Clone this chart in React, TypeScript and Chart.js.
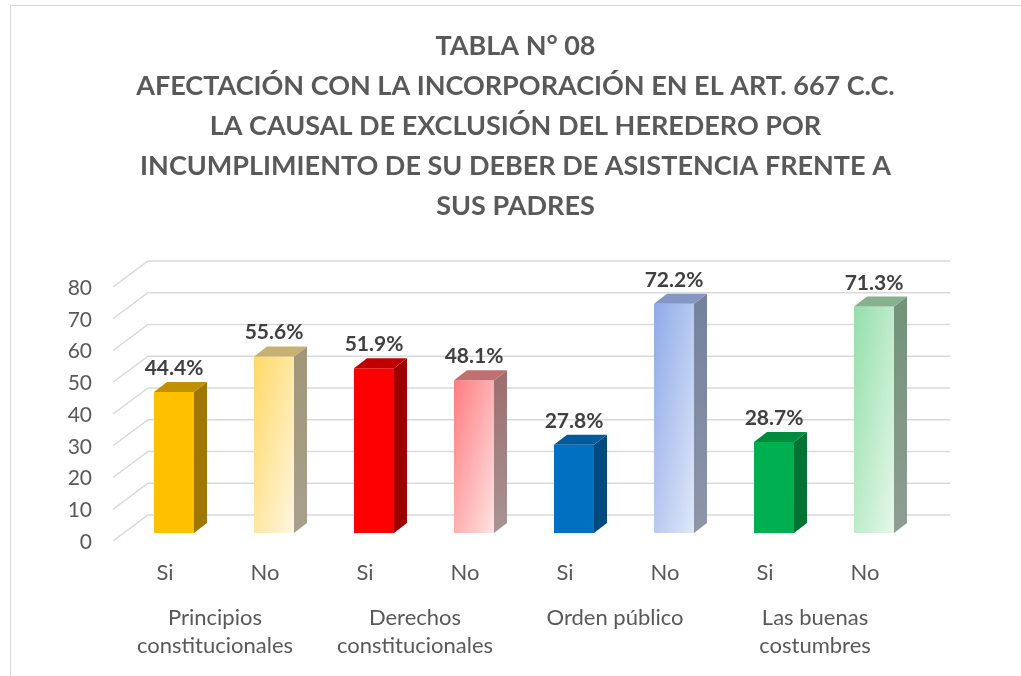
import React, { useEffect, useRef } from "react";
import { Chart, registerables } from "chart.js";

Chart.register(...registerables);

const titleLines = [
  "TABLA N° 08",
  "AFECTACIÓN CON LA INCORPORACIÓN EN EL ART. 667 C.C.",
  "LA CAUSAL DE EXCLUSIÓN DEL HEREDERO POR",
  "INCUMPLIMIENTO DE SU DEBER DE ASISTENCIA FRENTE A",
  "SUS PADRES",
];
const categories = ["Si", "No", "Si", "No", "Si", "No", "Si", "No"];
const groups = [
  ["Principios", "constitucionales"],
  ["Derechos", "constitucionales"],
  ["Orden público"],
  ["Las buenas", "costumbres"],
];
const values = [44.4, 55.6, 51.9, 48.1, 27.8, 72.2, 28.7, 71.3];
const valueLabels = ["44.4%", "55.6%", "51.9%", "48.1%", "27.8%", "72.2%", "28.7%", "71.3%"];
const yMin = 0;
const yMax = 80;
const yStep = 10;

const frontStart = ["#FFC000", "#FFD966", "#FF0000", "#FF7C80", "#0070C0", "#8EAAE8", "#00B050", "#94DFAA"];
const frontEnd = ["#FFC000", "#FFF6E1", "#FF0000", "#FFE3E3", "#0070C0", "#E0E8F8", "#00B050", "#E6F7EA"];
const sideStart = ["#A07800", "#A0977A", "#9E0000", "#9E7070", "#004A80", "#75829E", "#007533", "#73937A"];
const sideEnd = ["#A07800", "#A8A08C", "#9E0000", "#A89494", "#004A80", "#8E96A8", "#007533", "#8E9E92"];
const topColors = ["#BF9000", "#C7B172", "#C00000", "#C0706F", "#005B9C", "#8496C4", "#008A3E", "#86B08E"];

const DX = 13;
const DY = 10;
const FONT = "Lato, 'Open Sans', sans-serif";

function diagGradient(g: CanvasRenderingContext2D, left: number, top: number, w: number, h: number, c0: string, c1: string) {
  const s = 2 / (1 / (w * w) + 1 / (h * h));
  const grad = g.createLinearGradient(left, top, left + s / w, top + s / h);
  grad.addColorStop(0, c0);
  grad.addColorStop(1, c1);
  return grad;
}

const bar3dPlugin = {
  id: "bar3d",
  beforeDatasetsDraw(chart: any) {
    const g = chart.ctx;
    const ys = chart.scales.y;
    const { left, right } = chart.chartArea;
    g.save();
    g.strokeStyle = "#D9D9D9";
    g.lineWidth = 1.5;
    for (let v = yMin; v <= yMax; v += yStep) {
      const y = ys.getPixelForValue(v);
      g.beginPath();
      g.moveTo(left - 11, y + 8);
      g.lineTo(left + 24, y - 18);
      g.lineTo(right + 26, y - 18);
      g.stroke();
    }
    g.restore();
  },
  afterDatasetsDraw(chart: any) {
    const g = chart.ctx;
    const meta = chart.getDatasetMeta(0);
    g.save();
    meta.data.forEach((el: any, i: number) => {
      const { x, y, base, width } = el.getProps(["x", "y", "base", "width"], true);
      const l = x - width / 2;
      const r = x + width / 2;
      const sg = g.createLinearGradient(0, y, 0, base);
      sg.addColorStop(0, sideStart[i]);
      sg.addColorStop(1, sideEnd[i]);
      g.fillStyle = sg;
      g.beginPath();
      g.moveTo(r, y);
      g.lineTo(r + DX, y - DY);
      g.lineTo(r + DX, base - DY);
      g.lineTo(r, base);
      g.closePath();
      g.fill();
      g.fillStyle = topColors[i];
      g.beginPath();
      g.moveTo(l, y);
      g.lineTo(l + DX, y - DY);
      g.lineTo(r + DX, y - DY);
      g.lineTo(r, y);
      g.closePath();
      g.fill();
      g.fillStyle = "#404040";
      g.font = `bold 21px ${FONT}`;
      g.textAlign = "center";
      g.textBaseline = "alphabetic";
      g.fillText(valueLabels[i], x, y - 17);
    });
    g.restore();
  },
};

export default function App() {
  const ref = useRef<HTMLCanvasElement | null>(null);
  useEffect(() => {
    if (!ref.current) return;
    const chart = new Chart(ref.current, {
      type: "bar",
      data: {
        labels: categories,
        datasets: [
          {
            data: values,
            backgroundColor: (ctx: any) => {
              const c = ctx.chart;
              const i = ctx.dataIndex;
              if (!c.chartArea || !c.scales.x || !c.scales.y) return frontStart[i];
              const xs = c.scales.x;
              const ys = c.scales.y;
              const w = 40;
              const cx = xs.getPixelForValue(i);
              const top = ys.getPixelForValue(values[i]);
              const base = ys.getPixelForValue(0);
              return diagGradient(c.ctx, cx - w / 2, top, w, Math.max(1, base - top), frontStart[i], frontEnd[i]);
            },
            borderWidth: 0,
            barPercentage: 0.4,
            categoryPercentage: 1,
          },
        ],
      },
      options: {
        responsive: false,
        animation: false,
        layout: { padding: { left: 10, right: 0, top: 0, bottom: 0 } },
        plugins: {
          legend: { display: false },
          tooltip: { enabled: false },
          title: {
            display: true,
            text: titleLines,
            color: "#595959",
            font: { family: FONT, size: 27, weight: "bold", lineHeight: 40 / 27 },
            padding: { top: 26, bottom: 53 },
          },
        },
        scales: {
          y: {
            min: yMin,
            max: yMax,
            ticks: {
              stepSize: yStep,
              color: "#595959",
              font: { family: FONT, size: 21 },
              padding: 32,
              labelOffset: 9,
            },
            grid: { display: false, drawTicks: false },
            border: { display: false },
            afterFit: (s: any) => {
              s.width = 114;
            },
          },
          yRight: {
            position: "right",
            display: true,
            min: yMin,
            max: yMax,
            ticks: { display: false },
            grid: { display: false, drawTicks: false },
            border: { display: false },
            afterFit: (s: any) => {
              s.width = 97;
            },
          },
          x: {
            type: "category",
            labels: categories,
            ticks: {
              color: "#595959",
              font: { family: FONT, size: 22, lineHeight: 1.2 },
              padding: 27,
              labelOffset: -9,
              maxRotation: 0,
            },
            grid: { display: false, drawTicks: false },
            border: { display: false },
            afterFit: (s: any) => {
              s.height = 55;
            },
          },
          x2: {
            type: "category",
            position: "bottom",
            labels: groups as any,
            offset: true,
            ticks: {
              color: "#595959",
              font: { family: FONT, size: 22, lineHeight: 28 / 22 },
              padding: 16,
              labelOffset: -9,
              maxRotation: 0,
              autoSkip: false,
            },
            grid: { display: false, drawTicks: false },
            border: { display: false },
            afterFit: (s: any) => {
              s.height = 88;
            },
          },
        },
      } as any,
      plugins: [bar3dPlugin],
    });
    return () => chart.destroy();
  }, []);

  return (
    <div style={{ position: "fixed", left: 0, top: 0, width: 1021, height: 676, overflow: "hidden", background: "#fff" }}>
      <div
        style={{
          position: "absolute",
          left: 10,
          top: 5,
          width: 1100,
          height: 800,
          border: "1px solid #D9D9D9",
        }}
      />
      <canvas ref={ref} width={1021} height={676} style={{ position: "absolute", left: 0, top: 0, width: 1021, height: 676 }} />
    </div>
  );
}
